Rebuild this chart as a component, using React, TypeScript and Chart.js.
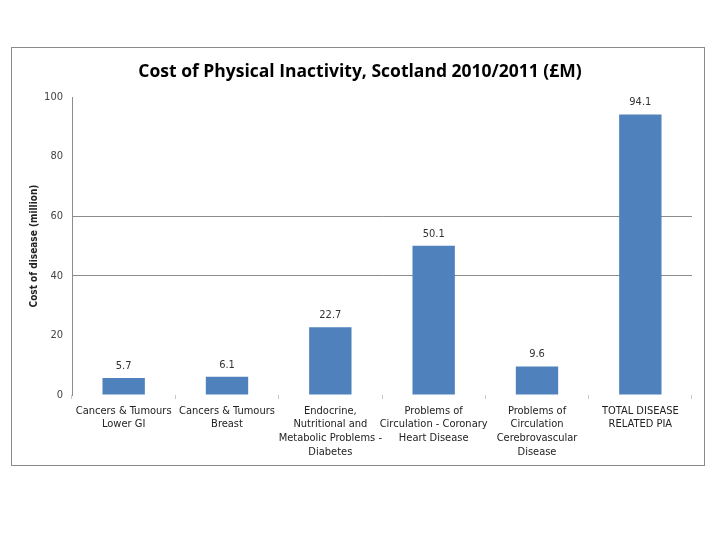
import React, { useEffect, useRef } from "react";
import { Chart, registerables } from "chart.js";

Chart.register(...registerables);

const categories: string[][] = [
  ["Cancers & Tumours", "Lower GI"],
  ["Cancers & Tumours", "Breast"],
  ["Endocrine,", "Nutritional and", "Metabolic Problems -", "Diabetes"],
  ["Problems of", "Circulation - Coronary", "Heart Disease"],
  ["Problems of", "Circulation", "Cerebrovascular", "Disease"],
  ["TOTAL DISEASE", "RELATED PIA"],
];
const costValues: number[] = [5.7, 6.1, 22.7, 50.1, 9.6, 94.1];
const yTicks: number[] = [0, 20, 40, 60, 80, 100];
const gridValues: number[] = [40, 60];

const FONT = "'Liberation Sans Narrow', 'DejaVu Sans Condensed', 'Open Sans', sans-serif";

const labelPlugin = {
  id: "barLabels",
  afterDatasetsDraw(chart: any) {
    const ctx = chart.ctx;
    const meta = chart.getDatasetMeta(0);
    ctx.save();
    ctx.font = `11px ${FONT}`;
    ctx.fillStyle = "#333333";
    ctx.textAlign = "center";
    ctx.textBaseline = "middle";
    meta.data.forEach((bar: any, i: number) => {
      ctx.fillText(costValues[i].toFixed(1), bar.x, bar.y - 12);
    });
    ctx.restore();
  },
};

export default function App() {
  const ref = useRef<HTMLCanvasElement>(null);
  useEffect(() => {
    if (!ref.current) return;
    const chart = new Chart(ref.current, {
      type: "bar",
      data: {
        labels: categories,
        datasets: [
          {
            data: costValues,
            backgroundColor: "#4F81BD",
            borderWidth: 0,
            barPercentage: 0.41,
            categoryPercentage: 1,
          },
        ],
      },
      options: {
        animation: false,
        responsive: false,
        layout: { padding: { left: 28, right: 28, top: 62, bottom: 0 } },
        plugins: {
          legend: { display: false },
          tooltip: { enabled: false },
          title: {
            display: true,
            text: "Cost of Physical Inactivity, Scotland 2010/2011 (£M)",
            color: "#000000",
            font: { family: "'Open Sans', sans-serif", size: 17.5, weight: "bold" },
            padding: { top: 0, bottom: 14 },
          },
        },
        scales: {
          x: {
            grid: {
              offset: true,
              drawOnChartArea: false,
              drawTicks: true,
              tickLength: 4,
              color: "#c8c8c8",
            },
            border: { display: false },
            ticks: {
              color: "#222222",
              font: { family: FONT, size: 11, lineHeight: 1.25 },
              maxRotation: 0,
              minRotation: 0,
              autoSkip: false,
              padding: 5,
            },
            afterFit: (axis: any) => {
              axis.height = 145;
            },
          },
          y: {
            min: 0,
            max: 100,
            afterBuildTicks: (axis: any) => {
              axis.ticks = yTicks.map((v) => ({ value: v }));
            },
            grid: {
              drawTicks: false,
              color: (c: any) => (gridValues.includes(c.tick?.value) ? "#8c8c8c" : "rgba(0,0,0,0)"),
            },
            border: { display: true, color: "#8c8c8c" },
            ticks: {
              color: "#444444",
              font: { family: FONT, size: 11 },
              padding: 9,
            },
            title: {
              display: true,
              text: "Cost of disease (million)",
              color: "#222222",
              font: { family: FONT, size: 10, weight: "bold" },
              padding: 0,
            },
            afterFit: (axis: any) => {
              axis.width = 44;
            },
          },
        },
      },
      plugins: [labelPlugin],
    });
    return () => chart.destroy();
  }, []);

  return (
    <div style={{ position: "absolute", left: 0, top: 0, width: 720, height: 540, background: "#ffffff" }}>
      <div
        style={{
          position: "absolute",
          left: 11,
          top: 47,
          width: 692,
          height: 417,
          border: "1px solid #8a8a8a",
        }}
      />
      <canvas ref={ref} width={720} height={540} style={{ position: "absolute", left: 0, top: 0 }} />
    </div>
  );
}
